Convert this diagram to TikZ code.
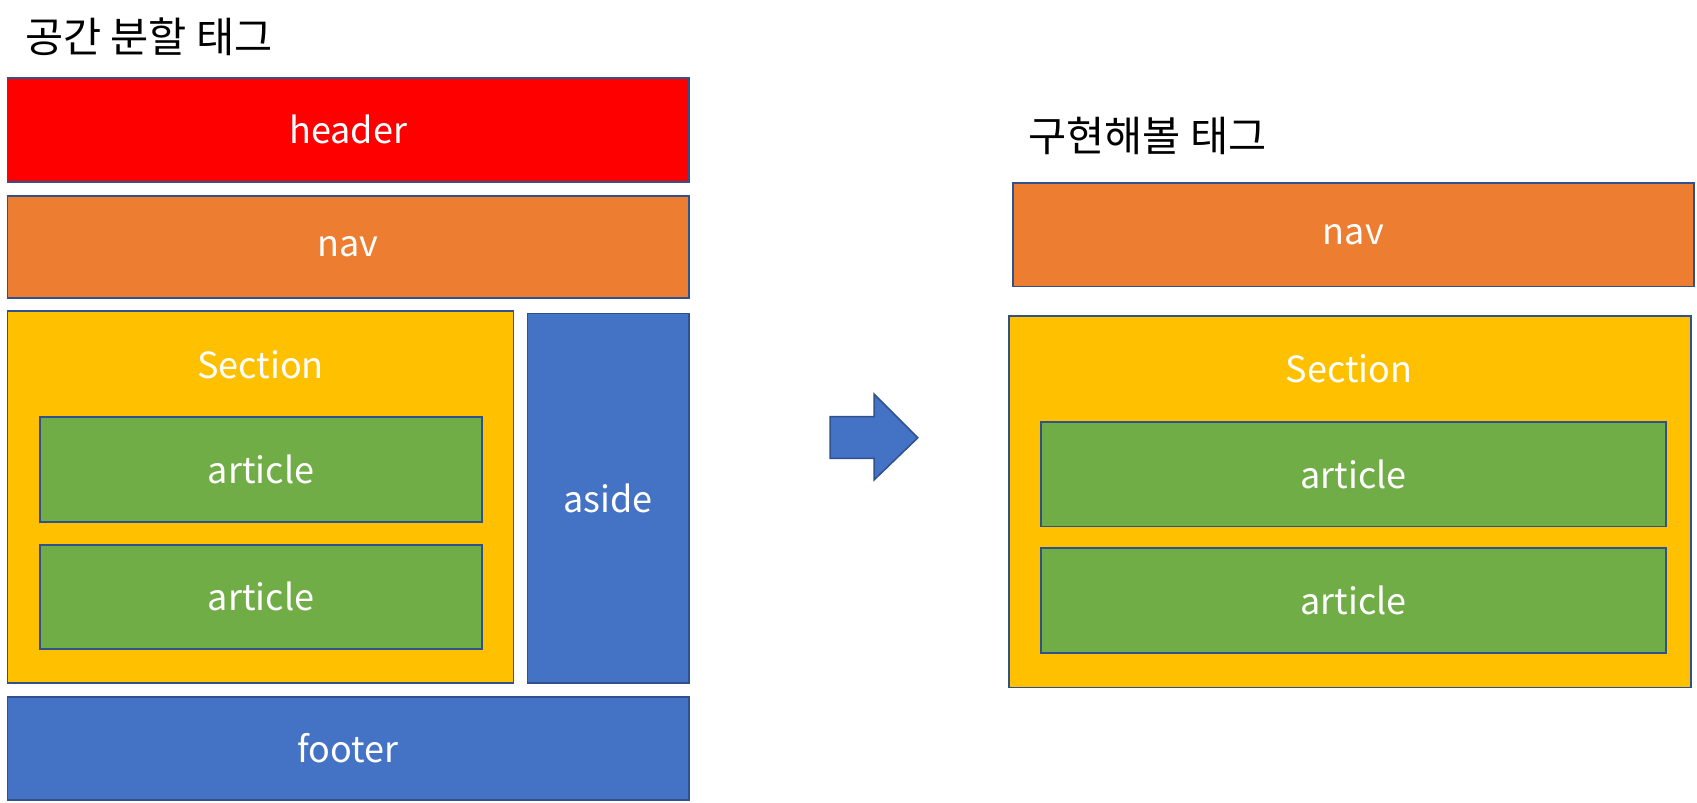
\documentclass[tikz,border=0pt]{standalone}
\usepackage{fontspec}
\setmainfont{Noto Sans CJK KR}
\usetikzlibrary{fit}
\definecolor{cRed}{HTML}{FF0000}
\definecolor{cOrange}{HTML}{ED7D31}
\definecolor{cYellow}{HTML}{FFC000}
\definecolor{cGreen}{HTML}{70AD47}
\definecolor{cBlue}{HTML}{4472C4}
\definecolor{cEdge}{HTML}{2F528F}
\tikzset{
  blk/.style={draw=cEdge, line width=1.8pt, inner sep=0pt, text=white,
    font=\fontsize{36}{42}\selectfont},
  lbl/.style={inner sep=0pt, text=white, font=\fontsize{36}{42}\selectfont},
  ttl/.style={inner sep=0pt, anchor=west, text=black, font=\fontsize{41.5}{48}\selectfont},
}
\begin{document}
\begin{tikzpicture}[x=1.081pt, y=-1.081pt]
\useasboundingbox (0,0) rectangle (1569.8,742.8);
% titles
\node[ttl] (t1) at (23,34) {공간 분할 태그};
\node[ttl] (t2) at (951,126) {구현해볼 태그};
% left layout
\node[blk, fill=cRed, fit={(7,72)(637,168)}] (header) {};
\node[lbl] at (header.center) {header};
\node[blk, fill=cOrange, fit={(7,181)(637,276)}] (nav) {};
\node[lbl] at (nav.center) {nav};
\node[blk, fill=cYellow, fit={(7,288)(475,632)}] (sec) {};
\node[lbl, anchor=base] (secl) at (241,350) {Section};
\node[blk, fill=cGreen, fit={(37,386)(446,483)}] (art1) {};
\node[lbl] at (art1.center) {article};
\node[blk, fill=cGreen, fit={(37,504)(446,600)}] (art2) {};
\node[lbl] at (art2.center) {article};
\node[blk, fill=cBlue, fit={(488,290)(637,632)}] (aside) {};
\node[lbl] at (aside.center) {aside};
\node[blk, fill=cBlue, fit={(7,645)(637,740)}] (footer) {};
\node[lbl] at (footer.center) {footer};
% arrow
\draw[draw=cEdge, fill=cBlue, line width=1.5pt, line join=miter]
  (768,385.5) -- (808.5,385.5) -- (808.5,364.5) -- (849,405) -- (808.5,444)
  -- (808.5,424) -- (768,424) -- cycle;
% right layout
\node[blk, fill=cOrange, fit={(937,169)(1567,265)}] (navR) {};
\node[lbl] at (navR.center) {nav};
\node[blk, fill=cYellow, fit={(933,292)(1564,636)}] (secR) {};
\node[lbl, anchor=base] (secRl) at (1248,354) {Section};
\node[blk, fill=cGreen, fit={(963,390)(1541,487)}] (artR1) {};
\node[lbl] at (artR1.center) {article};
\node[blk, fill=cGreen, fit={(963,507)(1541,604)}] (artR2) {};
\node[lbl] at (artR2.center) {article};
\end{tikzpicture}
\end{document}
